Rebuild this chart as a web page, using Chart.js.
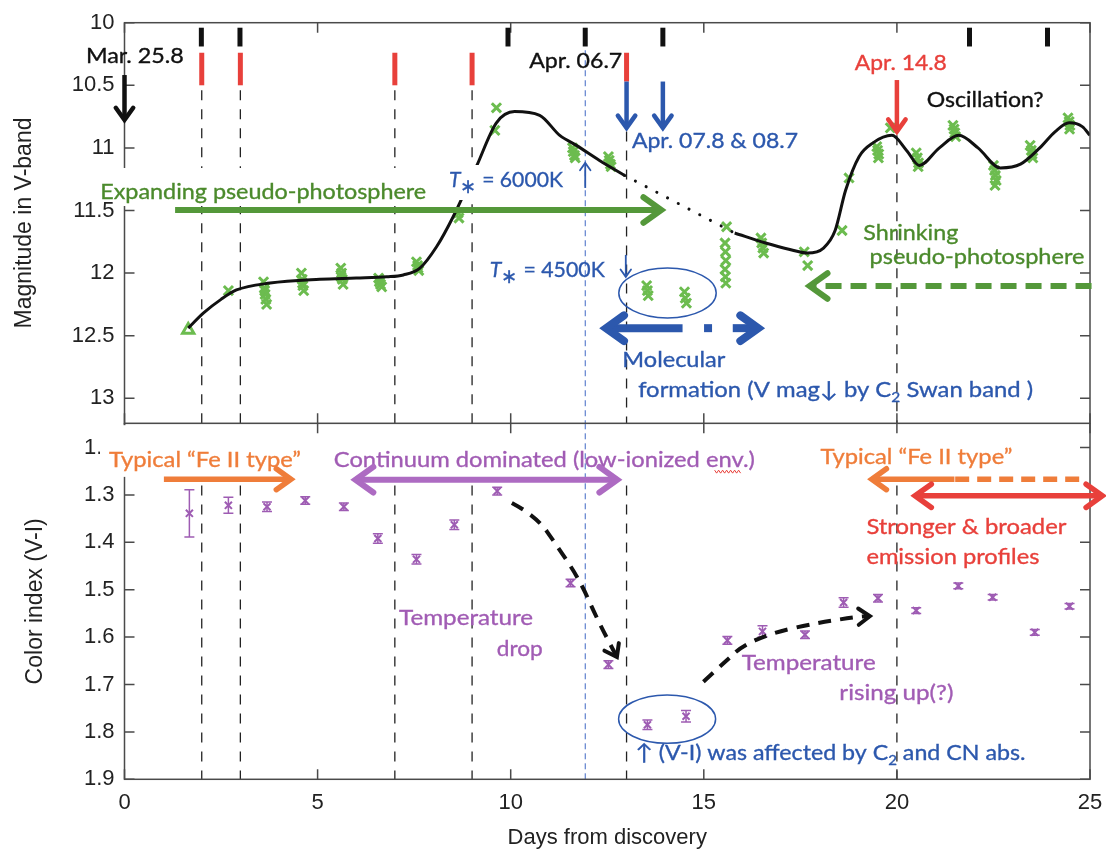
<!DOCTYPE html>
<html>
<head>
<meta charset="utf-8">
<title>V-band light curve and V-I colour index</title>
<script src="https://cdn.jsdelivr.net/npm/chart.js@4.4.1/dist/chart.umd.min.js"></script>
<style>
  body { margin: 0; background: #fff; }
  #wrap { position: relative; width: 1106px; height: 851px; overflow: hidden; background: #fff; }
  canvas { position: absolute; left: 0; }
  #magChart { top: 0; }
  #colorChart { top: 423px; }
</style>
</head>
<body>
<div id="wrap">
  <canvas id="magChart" width="1106" height="425"></canvas>
  <canvas id="colorChart" width="1106" height="428"></canvas>
</div>
<script>
// ---- axis ticks ----
const dayTicks = [0, 5, 10, 15, 20, 25];
const magTicks = [10, 10.5, 11, 11.5, 12, 12.5, 13];
const magTickLabels = ['10', '10.5', '11', '11.5', '12', '12.5', '13'];
const colorTicks = [1.2, 1.3, 1.4, 1.5, 1.6, 1.7, 1.8, 1.9];
const colorTickLabels = ['1.\u00a0\u00a0', '1.3', '1.4', '1.5', '1.6', '1.7', '1.8', '1.9'];

// ---- V-band photometry (green) ----
const vDay = [1.65, 2.69,
  3.6, 3.62, 3.64, 3.66, 3.68, 3.63,
  4.58, 4.6, 4.62, 4.64, 4.61,
  5.6, 5.62, 5.64, 5.66, 5.61,
  6.58, 6.6, 6.63, 6.66, 6.62,
  7.56, 7.59, 7.62, 7.6,
  8.64, 8.66,
  9.63, 9.59,
  11.6, 11.62, 11.65, 11.67,
  12.53, 12.55, 12.58, 12.6,
  13.52, 13.54, 13.56,
  14.5, 14.52, 14.55,
  15.59, 15.55, 15.56, 15.57, 15.55, 15.56, 15.57,
  16.48, 16.5, 16.53, 16.55,
  17.6, 17.69,
  18.58, 18.76,
  19.48, 19.5, 19.53, 19.52,
  19.83,
  20.5, 20.53, 20.56, 20.55,
  21.45, 21.48, 21.5, 21.52,
  22.5, 22.53, 22.55, 22.57, 22.54,
  23.45, 23.48, 23.5, 23.52,
  24.43, 24.46, 24.48, 24.47];
const vMag = [12.455, 12.14,
  12.07, 12.12, 12.17, 12.21, 12.25, 12.14,
  12.0, 12.05, 12.1, 12.14, 12.08,
  11.96, 12.0, 12.05, 12.09, 12.03,
  12.04, 12.07, 12.09, 12.11, 12.06,
  11.91, 11.94, 11.98, 11.96,
  11.52, 11.56,
  10.68, 10.86,
  11.0, 11.03, 11.06, 11.08,
  11.07, 11.1, 11.13, 11.15,
  12.1, 12.14, 12.18,
  12.15, 12.2, 12.24,
  11.63, 11.76, 11.83, 11.9, 11.97, 12.03, 12.08,
  11.72, 11.76, 11.8, 11.84,
  11.83, 11.94,
  11.66, 11.24,
  10.99, 11.02, 11.05, 11.08,
  10.84,
  11.04, 11.08, 11.12, 11.15,
  10.82, 10.85, 10.88, 10.91,
  11.14, 11.18, 11.22, 11.26, 11.3,
  10.98, 11.02, 11.05, 11.08,
  10.76, 10.79, 10.82, 10.85];

// ---- smooth curve drawn through the light curve ----
const fitDay1 = [1.65, 2.04, 2.5, 2.9, 3.77, 5.06, 6.0, 6.79, 7.22, 7.65, 8.08, 8.51, 9.11, 9.63, 10.1, 10.75, 11.27, 11.7, 12.3, 12.95];
const fitMag1 = [12.44, 12.32, 12.21, 12.135, 12.08, 12.05, 12.04, 12.03, 12.015, 11.96, 11.79, 11.55, 11.15, 10.8, 10.71, 10.74, 10.9, 10.98, 11.1, 11.22];
const gapDay = [12.95, 15.8];
const gapMag = [11.22, 11.68];
const fitDay2 = [15.8, 16.6, 17.2, 17.69, 18.1, 18.4, 18.67, 19.02, 19.38, 19.87, 20.25, 20.58, 21.1, 21.6, 22.1, 22.68, 23.2, 23.7, 24.1, 24.46, 24.8, 25.0];
const fitMag2 = [11.68, 11.76, 11.81, 11.84, 11.8, 11.66, 11.34, 11.07, 10.96, 10.9, 11.02, 11.14, 11.0, 10.9, 11.0, 11.16, 11.13, 11.0, 10.87, 10.8, 10.83, 10.9];

// ---- colour index V-I (purple) ----
const viDay = [1.68, 2.69, 3.69, 4.68, 5.68, 6.56, 7.56, 8.54, 9.65, 11.55, 12.53, 13.54, 14.54, 15.61, 16.52, 17.62, 18.62, 19.51, 20.5, 21.59, 22.48, 23.57, 24.47];
const viIndex = [1.339, 1.322, 1.325, 1.312, 1.325, 1.392, 1.436, 1.363, 1.292, 1.486, 1.658, 1.785, 1.767, 1.607, 1.588, 1.595, 1.527, 1.518, 1.544, 1.492, 1.516, 1.59, 1.535];
const viErr = [0.05, 0.017, 0.01, 0.008, 0.008, 0.01, 0.01, 0.01, 0.008, 0.008, 0.008, 0.01, 0.012, 0.008, 0.012, 0.008, 0.01, 0.008, 0.006, 0.006, 0.006, 0.006, 0.006];

// ---- spectroscopy epochs / guide lines ----
const blackSpecDays = [1.99, 2.99, 9.93, 11.93, 13.94, 21.88, 23.9];
const redSpecDays = [2, 3, 7, 9, 13];
const epochDays = [2, 3, 7, 9, 13, 20];

const AXIS_FONT = 'Liberation Sans, Arial, Helvetica, sans-serif';
const NOTE_FONT = 'Lato, "Open Sans", sans-serif';
const BLUE = '#2c58ad', GREEN = '#4b8a2c', GREEN_ARROW = '#54983a', RED = '#e8403b',
      ORANGE = '#ef7d3a', PURPLE = '#a15cb4', PURPLE_ARROW = '#ad6bc2';

function xy(chart, d, v) {
  return [chart.scales.x.getPixelForValue(d), chart.scales.y.getPixelForValue(v)];
}

// text squeezed to the width it has in the figure; parts may be subscript or italic
function note(ctx, parts, p, size, color, width) {
  if (typeof parts === 'string') parts = [{t: parts}];
  ctx.save();
  let total = 0;
  const fonts = parts.map(q => (q.it ? 'italic ' : '') + (q.sub ? size * (q.s || 0.65) : size) + 'px ' + NOTE_FONT);
  parts.forEach((q, i) => { ctx.font = fonts[i]; q.w = ctx.measureText(q.t).width; total += q.w; });
  const k = width ? width / total : 1;
  ctx.translate(p[0], p[1]);
  ctx.scale(k, 1);
  ctx.fillStyle = color;
  ctx.strokeStyle = color;
  ctx.lineWidth = 0.35;
  ctx.textBaseline = 'middle';
  ctx.textAlign = 'left';
  let cx = 0;
  parts.forEach((q, i) => {
    ctx.font = fonts[i];
    const y = q.sub ? size * 0.32 : 0;
    ctx.fillText(q.t, cx, y);
    ctx.strokeText(q.t, cx, y);
    cx += q.w;
  });
  ctx.restore();
}

function whiteBox(ctx, a, b) {
  ctx.save();
  ctx.fillStyle = '#fff';
  ctx.fillRect(a[0], a[1], b[0] - a[0], b[1] - a[1]);
  ctx.restore();
}

function arrow(ctx, pts, o) {
  ctx.save();
  ctx.strokeStyle = o.color;
  ctx.lineWidth = o.w;
  ctx.lineCap = o.cap || 'butt';
  ctx.lineJoin = 'round';
  ctx.setLineDash(o.dash || []);
  ctx.beginPath();
  ctx.moveTo(pts[0][0], pts[0][1]);
  if (o.smooth) {
    for (let i = 1; i < pts.length - 1; i++) {
      const mx = (pts[i][0] + pts[i + 1][0]) / 2, my = (pts[i][1] + pts[i + 1][1]) / 2;
      ctx.quadraticCurveTo(pts[i][0], pts[i][1], mx, my);
    }
    ctx.lineTo(pts[pts.length - 1][0], pts[pts.length - 1][1]);
  } else {
    pts.slice(1).forEach(q => ctx.lineTo(q[0], q[1]));
  }
  ctx.stroke();
  ctx.setLineDash([]);
  ctx.lineJoin = 'miter';
  ctx.lineCap = 'round';
  const head = (tip, from) => {
    const a = Math.atan2(tip[1] - from[1], tip[0] - from[0]);
    const L = o.head || 0, th = o.angle || 0.62;
    if (!L) return;
    ctx.lineWidth = o.hw || o.w;
    ctx.beginPath();
    ctx.moveTo(tip[0] - L * Math.cos(a - th), tip[1] - L * Math.sin(a - th));
    ctx.lineTo(tip[0], tip[1]);
    ctx.lineTo(tip[0] - L * Math.cos(a + th), tip[1] - L * Math.sin(a + th));
    ctx.stroke();
  };
  const n = pts.length;
  if (o.end !== false) head(pts[n - 1], pts[n - 2]);
  if (o.start) head(pts[0], pts[1]);
  ctx.restore();
}

function ellipse(ctx, p, rx, ry, color) {
  ctx.save();
  ctx.strokeStyle = color;
  ctx.lineWidth = 1.5;
  ctx.beginPath();
  ctx.ellipse(p[0], p[1], rx, ry, 0, 0, Math.PI * 2);
  ctx.stroke();
  ctx.restore();
}

function vLine(ctx, a, b, color, w, dash) {
  ctx.save();
  ctx.strokeStyle = color;
  ctx.lineWidth = w;
  ctx.setLineDash(dash || []);
  ctx.beginPath();
  ctx.moveTo(a[0], a[1]);
  ctx.lineTo(b[0], b[1]);
  ctx.stroke();
  ctx.restore();
}

function frame(chart, yTicks) {
  const {ctx, chartArea: a, scales} = chart;
  ctx.save();
  ctx.strokeStyle = '#4a4a4a';
  ctx.lineWidth = 1.5;
  ctx.strokeRect(a.left, a.top, a.right - a.left, a.bottom - a.top);
  ctx.beginPath();
  dayTicks.forEach(d => {
    const x = scales.x.getPixelForValue(d);
    ctx.moveTo(x, a.bottom); ctx.lineTo(x, a.bottom - 10);
    ctx.moveTo(x, a.top); ctx.lineTo(x, a.top + 10);
  });
  yTicks.forEach(v => {
    const y = scales.y.getPixelForValue(v);
    ctx.moveTo(a.left, y); ctx.lineTo(a.left + 10, y);
    ctx.moveTo(a.right, y); ctx.lineTo(a.right - 10, y);
  });
  ctx.stroke();
  ctx.restore();
}

// keep the plot area where the figure has it: no extra room for edge labels
function noEdgePadding(s) {
  s.paddingTop = 0; s.paddingBottom = 0; s.paddingLeft = 0; s.paddingRight = 0;
}

const magDecor = {
  id: 'magDecor',
  beforeDatasetsDraw(chart) {
    const ctx = chart.ctx, P = (d, v) => xy(chart, d, v);
    vLine(ctx, P(11.93, 10.22), P(11.93, 13.2), '#3f67c4', 1, [6, 4]);
    epochDays.forEach(d => {
      const from = d === 13 ? 10.87 : d === 20 ? 10.9 : 10.54;
      vLine(ctx, P(d, from), P(d, 13.2), '#222', 1.3, [10, 9]);
    });
  },
  afterDatasetsDraw(chart) {
    const ctx = chart.ctx, P = (d, v) => xy(chart, d, v);
    frame(chart, magTicks);

    // spectroscopic epochs
    blackSpecDays.forEach(d => vLine(ctx, P(d, 10.04), P(d, 10.19), '#111', 5));
    redSpecDays.forEach(d => vLine(ctx, P(d, 10.24), P(d, d === 13 ? 10.47 : 10.5), RED, 5));

    note(ctx, 'Mar. 25.8', P(-1.0, 10.264), 21, '#111', 98);
    arrow(ctx, [P(0, 10.418), P(0, 10.777)], {color: '#111', w: 4.5, head: 15});

    note(ctx, 'Apr. 06.7', P(10.48, 10.311), 21, '#111', 93);
    arrow(ctx, [P(13, 10.47), P(13, 10.84)], {color: BLUE, w: 4.5, head: 15});
    arrow(ctx, [P(13.94, 10.47), P(13.94, 10.84)], {color: BLUE, w: 4.5, head: 15});
    note(ctx, 'Apr. 07.8 & 08.7', P(13.14, 10.95), 21, BLUE, 166);

    note(ctx, 'Apr. 14.8', P(18.91, 10.324), 21, RED, 92);
    arrow(ctx, [P(20, 10.458), P(20, 10.87)], {color: RED, w: 4.5, head: 15});
    note(ctx, 'Oscillation?', P(20.77, 10.617), 21, '#111', 117);

    // expanding phase
    whiteBox(ctx, [119, 168], [440, 206]);
    whiteBox(ctx, [445, 165], [575, 200]);
    note(ctx, 'Expanding pseudo-photosphere', P(-0.63, 11.35), 22, GREEN, 326);
    arrow(ctx, [P(1.31, 11.496), P(13.9, 11.496)], {color: GREEN_ARROW, w: 6, head: 22});

    note(ctx, [{t: 'T', it: true}, {t: '\u2217', sub: true, s: 0.9}, {t: ' = 6000K'}], P(8.4, 11.256), 22, BLUE, 114);
    arrow(ctx, [P(11.93, 11.32), P(11.93, 11.12)], {color: BLUE, w: 1.8, head: 9});
    note(ctx, [{t: 'T', it: true}, {t: '\u2217', sub: true, s: 0.9}, {t: ' = 4500K'}], P(9.46, 11.975), 22, BLUE, 115);
    arrow(ctx, [P(12.98, 11.855), P(12.98, 12.03)], {color: BLUE, w: 1.8, head: 9});

    // molecular formation
    ellipse(ctx, P(14.06, 12.159), 48.7, 25, BLUE);
    arrow(ctx, [P(14.45, 12.44), P(12.47, 12.44)], {color: BLUE, w: 8, head: 22});
    const dot = P(15.11, 12.44);
    ctx.save(); ctx.fillStyle = BLUE; ctx.fillRect(dot[0] - 4, dot[1] - 4, 8, 8); ctx.restore();
    arrow(ctx, [P(15.75, 12.44), P(16.41, 12.44)], {color: BLUE, w: 8, head: 22});
    note(ctx, 'Molecular', P(12.89, 12.694), 22, BLUE, 103);
    note(ctx, [{t: 'formation (V mag\u2193 by C'}, {t: '2', sub: true}, {t: ' Swan band )'}], P(13.3, 12.934), 22, BLUE, 395);

    // shrinking phase
    note(ctx, 'Shrinking', P(19.13, 11.682), 22, GREEN, 95);
    note(ctx, 'pseudo-photosphere', P(19.29, 11.869), 22, GREEN, 215);
    arrow(ctx, [P(25.04, 12.103), P(17.74, 12.103)], {color: GREEN_ARROW, w: 6, head: 22, dash: [16, 9]});
  }
};

const colorDecor = {
  id: 'colorDecor',
  beforeDatasetsDraw(chart) {
    const ctx = chart.ctx, P = (d, v) => xy(chart, d, v);
    vLine(ctx, P(11.93, 1.149), P(11.93, 1.9), '#3f67c4', 1, [6, 4]);
    epochDays.forEach(d => vLine(ctx, P(d, 1.28), P(d, 1.9), '#222', 1.3, [10, 9]));
    // error bars
    ctx.save();
    ctx.strokeStyle = '#9e5cb3';
    ctx.lineWidth = 1.5;
    ctx.beginPath();
    viDay.forEach((d, i) => {
      const lo = P(d, viIndex[i] - viErr[i]), hi = P(d, viIndex[i] + viErr[i]);
      ctx.moveTo(lo[0], lo[1]); ctx.lineTo(hi[0], hi[1]);
      ctx.moveTo(lo[0] - 5, lo[1]); ctx.lineTo(lo[0] + 5, lo[1]);
      ctx.moveTo(hi[0] - 5, hi[1]); ctx.lineTo(hi[0] + 5, hi[1]);
    });
    ctx.stroke();
    ctx.restore();
  },
  afterDatasetsDraw(chart) {
    const ctx = chart.ctx, P = (d, v) => xy(chart, d, v);
    frame(chart, colorTicks);

    whiteBox(ctx, P(-0.635, 1.153), P(4.7, 1.262));
    note(ctx, 'Typical \u201cFe II type\u201d', P(-0.4, 1.226), 22, ORANGE, 192);
    arrow(ctx, [P(1.02, 1.267), P(4.31, 1.267)], {color: ORANGE, w: 5.5, head: 18});

    note(ctx, 'Continuum dominated (low-ionized env.)', P(5.42, 1.226), 22, PURPLE, 421);
    arrow(ctx, [P(5.98, 1.268), P(12.76, 1.268)], {color: PURPLE_ARROW, w: 6, head: 22, start: true});
    // spell-check squiggle under "env."
    ctx.save();
    ctx.strokeStyle = RED; ctx.lineWidth = 1;
    ctx.beginPath();
    const w0 = P(15.28, 1.251), w1 = P(15.98, 1.251);
    for (let x = w0[0], k = 0; x <= w1[0]; x += 2, k++) {
      const y = w0[1] + (k % 2 ? 1.5 : -1.5);
      if (k === 0) ctx.moveTo(x, y); else ctx.lineTo(x, y);
    }
    ctx.stroke();
    ctx.restore();

    note(ctx, 'Typical \u201cFe II type\u201d', P(18.02, 1.22), 22, ORANGE, 192);
    arrow(ctx, [P(24.72, 1.267), P(21.49, 1.267)], {color: ORANGE, w: 5.5, dash: [14, 8], end: false});
    arrow(ctx, [P(21.49, 1.267), P(19.35, 1.267)], {color: ORANGE, w: 5.5, head: 18});
    arrow(ctx, [P(20.47, 1.302), P(25.32, 1.302)], {color: RED, w: 5.5, head: 20, start: true});
    note(ctx, 'Stronger & broader', P(19.21, 1.367), 22, RED, 200);
    note(ctx, 'emission profiles', P(19.21, 1.43), 22, RED, 173);

    note(ctx, 'Temperature', P(7.11, 1.56), 22, PURPLE, 134);
    note(ctx, 'drop', P(9.64, 1.624), 22, PURPLE, 46);
    arrow(ctx, [[10.03, 1.317], [10.65, 1.344], [11.22, 1.41], [11.79, 1.48], [12.25, 1.564], [12.75, 1.642]].map(q => P(q[0], q[1])),
      {color: '#111', w: 4, head: 14, dash: [13, 9], smooth: true});

    note(ctx, 'Temperature', P(15.98, 1.654), 22, PURPLE, 134);
    note(ctx, 'rising up(?)', P(18.51, 1.717), 22, PURPLE, 114);
    arrow(ctx, [[14.99, 1.694], [15.61, 1.648], [15.98, 1.62], [16.73, 1.592], [17.86, 1.571], [18.97, 1.557], [19.3, 1.556]].map(q => P(q[0], q[1])),
      {color: '#111', w: 4, head: 14, dash: [13, 9], smooth: true});

    ellipse(ctx, P(14.05, 1.773), 48.5, 24.2, BLUE);
    note(ctx, [{t: '\u2191 (V-I) was affected by C'}, {t: '2', sub: true}, {t: ' and CN abs.'}], P(13.23, 1.845), 22, BLUE, 390);
  }
};

const tickFont = {family: AXIS_FONT, size: 22};
const titleFont = {family: AXIS_FONT, size: 23};
const pts = (xs, ys) => xs.map((x, i) => ({x: x, y: ys[i]}));

new Chart(document.getElementById('magChart'), {
  type: 'scatter',
  data: {
    datasets: [
      {data: pts(fitDay1, fitMag1), showLine: true, borderColor: '#111', borderWidth: 3, pointRadius: 0, cubicInterpolationMode: 'monotone'},
      {data: pts(gapDay, gapMag), showLine: true, borderColor: '#111', borderWidth: 3, borderDash: [0.1, 12], borderCapStyle: 'round', pointRadius: 0},
      {data: pts(fitDay2, fitMag2), showLine: true, borderColor: '#111', borderWidth: 3, pointRadius: 0, cubicInterpolationMode: 'monotone'},
      {data: pts(vDay, vMag), pointStyle: vDay.map((d, i) => i === 0 ? 'triangle' : 'crossRot'),
       pointRadius: 6.5, borderWidth: 3, borderColor: '#6cbc4f', backgroundColor: 'rgba(108,188,79,0)'}
    ]
  },
  options: {
    responsive: false,
    animation: false,
    layout: {autoPadding: false, padding: {top: 22.7, right: 16, bottom: 1.7, left: 0}},
    plugins: {legend: {display: false}, tooltip: {enabled: false}},
    scales: {
      x: {type: 'linear', min: 0, max: 25, display: false},
      y: {
        type: 'linear', min: 10, max: 13.2, reverse: true,
        afterFit: s => { s.width = 124.5; noEdgePadding(s); },
        afterBuildTicks: s => { s.ticks = magTicks.map(v => ({value: v})); },
        ticks: {callback: (v, i) => magTickLabels[i], font: tickFont, color: '#222', padding: 10},
        grid: {display: false, drawTicks: false},
        border: {display: false},
        title: {display: true, text: 'Magnitude in V-band', font: titleFont, color: '#222', padding: {top: 11, bottom: 0}}
      }
    }
  },
  plugins: [magDecor]
});

new Chart(document.getElementById('colorChart'), {
  type: 'scatter',
  data: {
    datasets: [
      {data: pts(viDay, viIndex), pointStyle: 'crossRot', pointRadius: 5, borderWidth: 2, borderColor: '#9e5cb3'}
    ]
  },
  options: {
    responsive: false,
    animation: false,
    layout: {autoPadding: false, padding: {top: 0.3, right: 16, bottom: 0, left: 0}},
    plugins: {legend: {display: false}, tooltip: {enabled: false}},
    scales: {
      x: {
        type: 'linear', min: 0, max: 25,
        afterFit: s => { s.height = 71.7; noEdgePadding(s); },
        afterBuildTicks: s => { s.ticks = dayTicks.map(v => ({value: v})); },
        ticks: {font: tickFont, color: '#222', padding: 10, maxRotation: 0},
        grid: {display: false, drawTicks: false},
        border: {display: false},
        title: {display: true, text: 'Days from discovery', font: {family: AXIS_FONT, size: 22}, color: '#222', padding: {top: 0, bottom: 0}}
      },
      y: {
        type: 'linear', min: 1.149, max: 1.9, reverse: true,
        afterFit: s => { s.width = 124.5; noEdgePadding(s); },
        afterBuildTicks: s => { s.ticks = colorTicks.map(v => ({value: v})); },
        ticks: {callback: (v, i) => colorTickLabels[i], font: tickFont, color: '#222', padding: 10},
        grid: {display: false, drawTicks: false},
        border: {display: false},
        title: {display: true, text: 'Color index (V-I)', font: titleFont, color: '#222', padding: {top: 22, bottom: 0}}
      }
    }
  },
  plugins: [colorDecor]
});
</script>
</body>
</html>
